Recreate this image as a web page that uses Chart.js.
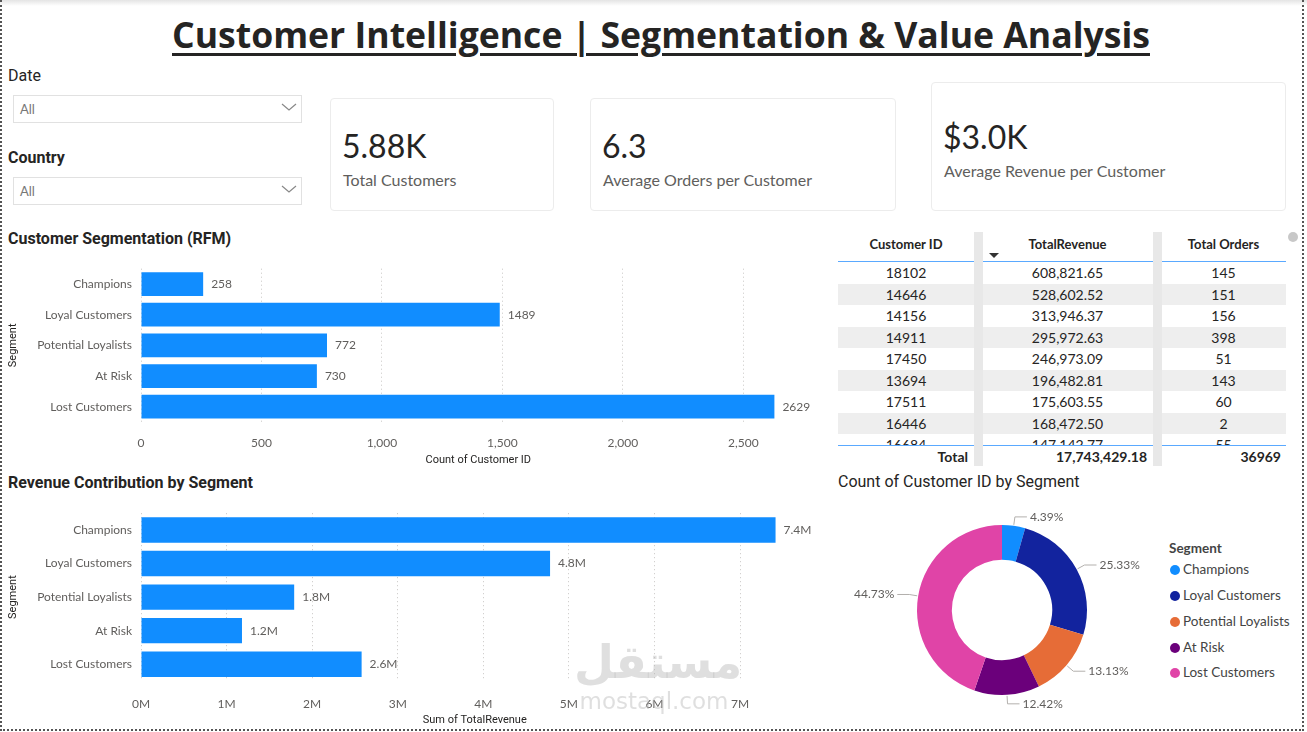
<!DOCTYPE html>
<html>
<head>
<meta charset="utf-8">
<title>Customer Intelligence | Segmentation &amp; Value Analysis</title>
<script src="https://cdn.jsdelivr.net/npm/chart.js@4.4.1/dist/chart.umd.min.js"></script>
<style>
  body { margin:0; width:1307px; height:732px; background:#fff; overflow:hidden; position:relative;
         font-family: Lato, "Noto Sans", sans-serif; color:#252423; }
  .abs { position:absolute; }
  #frame { left:0; top:0; width:1300px; height:729px; border-left:2px dotted #555; border-right:2px dotted #555; border-bottom:2px dotted #555; }
  #topshade { left:0; top:0; width:1307px; height:6px; background:linear-gradient(#e4e4e4, rgba(255,255,255,0)); }
  #title { left:172px; top:10px; white-space:nowrap; font-family:"Open Sans", sans-serif; font-weight:700; font-size:36px;
           text-decoration:underline; text-decoration-thickness:3px; text-underline-offset:5px; transform-origin:left top; color:#252423; }
  .slabel { font-family:Roboto, sans-serif; font-size:16px; color:#252423; }
  .dropdown { left:13px; width:287px; height:26px; border:1px solid #e1e1e1; }
  .dropdown span { position:absolute; left:6px; top:5px; font-size:13px; color:#777; }
  .dropdown svg { position:absolute; right:4px; top:6px; }
  .card { border:1px solid #ececec; border-radius:4px; }
  .kpi { font-size:32px; color:#252423; }
  .kpilab { font-size:16px; color:#605E5C; white-space:nowrap; }
  .vtitle { font-family:Roboto, sans-serif; font-weight:700; font-size:16px; color:#252423; white-space:nowrap; }
  #tbl { left:838px; top:232px; width:448px; }
  .th { position:absolute; top:4px; font-weight:700; font-size:13px; text-align:center; }
  .row { position:absolute; left:0; width:448px; height:21.5px; line-height:21.5px; font-size:14px; color:#252423; }
  .row div { position:absolute; text-align:center; }
  .sep { top:0; width:9px; height:234px; background:#e8e8e8; }
  .legitem { position:absolute; left:1170px; font-size:13.5px; color:#444; white-space:nowrap; }
  .legitem i { display:inline-block; width:10px; height:10px; border-radius:50%; margin-right:3px; vertical-align:-1px; }
  #wm { left:574px; top:636px; width:160px; color:rgba(175,175,175,0.4); pointer-events:none; text-align:center; z-index:10; }
</style>
</head>
<body>
<div id="topshade" class="abs"></div>
<div id="frame" class="abs"></div>
<div id="title" class="abs">Customer Intelligence | Segmentation &amp; Value Analysis</div>

<div class="abs slabel" style="left:8px;top:66px;">Date</div>
<div class="abs dropdown" style="top:95px;"><span>All</span>
  <svg width="16" height="10"><polyline points="1,2 8,8 15,2" fill="none" stroke="#888" stroke-width="1.2"/></svg></div>
<div class="abs slabel" style="left:8px;top:148px;font-weight:700;">Country</div>
<div class="abs dropdown" style="top:177px;"><span>All</span>
  <svg width="16" height="10"><polyline points="1,2 8,8 15,2" fill="none" stroke="#888" stroke-width="1.2"/></svg></div>

<div class="abs card" style="left:330px;top:98px;width:222px;height:111px;"></div>
<div class="abs card" style="left:590px;top:98px;width:304px;height:111px;"></div>
<div class="abs card" style="left:931px;top:82px;width:353px;height:127px;"></div>
<div class="abs kpi" id="kpi1" style="left:342px;top:126px;"></div>
<div class="abs kpilab" style="left:343px;top:170px;">Total Customers</div>
<div class="abs kpi" id="kpi2" style="left:602px;top:126px;"></div>
<div class="abs kpilab" style="left:603px;top:170px;">Average Orders per Customer</div>
<div class="abs kpi" id="kpi3" style="left:943px;top:117px;"></div>
<div class="abs kpilab" style="left:944px;top:161px;">Average Revenue per Customer</div>

<div class="abs vtitle" style="left:8px;top:229px;">Customer Segmentation (RFM)</div>
<canvas id="segChart" class="abs" width="830" height="219" style="left:0;top:250px;"></canvas>

<div class="abs vtitle" style="left:8px;top:473px;">Revenue Contribution by Segment</div>
<canvas id="revChart" class="abs" width="830" height="234" style="left:0;top:495px;"></canvas>

<div id="tbl" class="abs">
  <div class="th" style="left:0;width:136px;">Customer ID</div>
  <div class="th" style="left:144px;width:171px;">TotalRevenue</div>
  <div class="th" style="left:323px;width:125px;">Total Orders</div>
  <div class="abs" style="left:151px;top:21px;width:0;height:0;border-left:5px solid transparent;border-right:5px solid transparent;border-top:5px solid #333;"></div>
  <div class="abs" style="left:0;top:29px;width:448px;height:1px;background:#5aa9ff;"></div>
  <div id="tbody" class="abs" style="left:0;top:30px;width:448px;height:183px;overflow:hidden;"></div>
  <div class="abs" style="left:0;top:213px;width:448px;height:1px;background:#5aa9ff;"></div>
  <div id="ttotal" class="abs row" style="top:214px;font-weight:700;"></div>
  <div class="abs sep" style="left:136px;"></div>
  <div class="abs sep" style="left:315px;"></div>
</div>
<div class="abs" style="left:1288px;top:232px;width:10px;height:10px;border-radius:50%;background:#c8c8c8;"></div>

<div class="abs" style="left:838px;top:472px;font-family:Roboto,sans-serif;font-size:16px;color:#252423;white-space:nowrap;">Count of Customer ID by Segment</div>
<canvas id="donut" class="abs" width="330" height="235" style="left:838px;top:495px;"></canvas>
<div class="abs" style="left:1169px;top:540px;font-weight:700;font-size:13.5px;color:#444;">Segment</div>
<div id="legend"></div>

<div id="wm" class="abs"><div style="font-family:'DejaVu Sans';font-weight:700;font-size:46px;line-height:52px;">مستقل</div>
  <div style="font-family:'DejaVu Sans';font-size:23px;line-height:26px;">mostaql.com</div></div>

<script>
// ---- data ----
const segments = ['Champions', 'Loyal Customers', 'Potential Loyalists', 'At Risk', 'Lost Customers'];
const customerCounts = [258, 1489, 772, 730, 2629];
const segmentRevenue = [7415000, 4780000, 1790000, 1180000, 2578000];
const segmentColors = ['#118DFF', '#12239E', '#E66C37', '#6B007B', '#E044A7'];
const countTicks = [0, 500, 1000, 1500, 2000, 2500];
const revenueTicks = [0, 1e6, 2e6, 3e6, 4e6, 5e6, 6e6, 7e6];

const topIds = ['18102', '14646', '14156', '14911', '17450', '13694', '17511', '16446', '16684'];
const topRevenue = [608821.65, 528602.52, 313946.37, 295972.63, 246973.09, 196482.81, 175603.55, 168472.50, 147142.77];
const topOrders = [145, 151, 156, 398, 51, 143, 60, 2, 55];
const totalRevenue = 17743429.18;
const totalOrders = 36969;

const kpiValues = ['5.88K', '6.3', '$3.0K'];

const grey = '#605E5C';
const bodyFont = 'Lato, "Noto Sans", sans-serif';

// fit title width like the report
const title = document.getElementById('title');
title.style.transform = 'scaleX(' + (978 / title.scrollWidth) + ')';

document.getElementById('kpi1').textContent = kpiValues[0];
document.getElementById('kpi2').textContent = kpiValues[1];
document.getElementById('kpi3').textContent = kpiValues[2];

// table
const money = v => v.toLocaleString('en-US', { minimumFractionDigits: 2, maximumFractionDigits: 2 });
const tbody = document.getElementById('tbody');
topIds.forEach((id, i) => {
  const r = document.createElement('div');
  r.className = 'row';
  r.style.top = (i * 21.5) + 'px';
  if (i % 2 === 1) r.style.background = '#eeeeee';
  r.innerHTML = '<div style="left:0;width:136px">' + id + '</div>' +
    '<div style="left:144px;width:171px">' + money(topRevenue[i]) + '</div>' +
    '<div style="left:323px;width:125px">' + topOrders[i] + '</div>';
  tbody.appendChild(r);
});
document.getElementById('ttotal').innerHTML =
  '<div style="left:0;width:130px;text-align:right">Total</div>' +
  '<div style="left:144px;width:165px;text-align:right">' + money(totalRevenue) + '</div>' +
  '<div style="left:323px;width:120px;text-align:right">' + totalOrders + '</div>';

// legend
const legend = document.getElementById('legend');
const legY = [561, 587, 613, 639, 664];
segments.forEach((s, i) => {
  const d = document.createElement('div');
  d.className = 'legitem';
  d.style.top = legY[i] + 'px';
  d.innerHTML = '<i style="background:' + segmentColors[i] + '"></i>' + s;
  legend.appendChild(d);
});

// value labels at the end of each bar
function makeBarLabels(fmt) {
  return {
    id: 'barLabels',
    afterDatasetsDraw(chart) {
      const ctx = chart.ctx;
      const ds = chart.data.datasets[0];
      ctx.save();
      ctx.font = '12px ' + bodyFont;
      ctx.fillStyle = grey;
      ctx.textBaseline = 'middle';
      chart.getDatasetMeta(0).data.forEach((bar, i) => {
        ctx.fillText(fmt(ds.data[i]), bar.x + 8, bar.y);
      });
      ctx.restore();
    }
  };
}

function makeBarChart(id, values, cfg) {
  return new Chart(document.getElementById(id), {
    type: 'bar',
    data: {
      labels: segments,
      datasets: [{ data: values, backgroundColor: '#118DFF', barPercentage: cfg.barPct, categoryPercentage: 1 }]
    },
    options: {
      indexAxis: 'y',
      responsive: false,
      animation: false,
      layout: { padding: { top: cfg.padTop, right: cfg.padRight, left: 0, bottom: 0 } },
      plugins: { legend: { display: false }, tooltip: { enabled: false } },
      scales: {
        x: {
          min: 0, max: cfg.max,
          afterBuildTicks: s => { s.ticks = cfg.ticks.map(v => ({ value: v })); },
          afterFit: s => { s.height = cfg.xHeight; },
          grid: { color: '#c8c6c4', drawTicks: false },
          border: { display: false, dash: [1, 3] },
          ticks: { callback: cfg.tickFmt, color: grey, padding: cfg.tickPad, font: { size: 12, family: bodyFont } },
          title: { display: true, text: cfg.xTitle, color: '#252423', padding: { top: 0, bottom: 2 },
                   font: { size: 11, family: 'Roboto, sans-serif' } }
        },
        y: {
          afterFit: s => { s.width = 141; },
          grid: { display: false, drawTicks: false },
          border: { display: false },
          ticks: { color: grey, padding: 9, font: { size: 12, family: bodyFont } },
          title: { display: true, text: 'Segment', color: '#252423', padding: { top: 7, bottom: 0 },
                   font: { size: 11, family: 'Roboto, sans-serif' } }
        }
      }
    },
    plugins: [makeBarLabels(cfg.labelFmt)]
  });
}

makeBarChart('segChart', customerCounts, {
  max: 2800, ticks: countTicks, padTop: 18.7, padRight: 14.4, xHeight: 47, tickPad: 14, barPct: 0.775,
  tickFmt: v => v.toLocaleString('en-US'), labelFmt: v => String(v), xTitle: 'Count of Customer ID'
});

makeBarChart('revChart', segmentRevenue, {
  max: 7.8e6, ticks: revenueTicks, padTop: 18.2, padRight: 21.5, xHeight: 48, tickPad: 16, barPct: 0.756,
  tickFmt: v => (v / 1e6) + 'M', labelFmt: v => (v / 1e6).toFixed(1) + 'M', xTitle: 'Sum of TotalRevenue'
});

// percentage labels with leader lines
const donutLabels = {
  id: 'donutLabels',
  afterDatasetsDraw(chart) {
    const ctx = chart.ctx;
    const data = chart.data.datasets[0].data;
    const total = data.reduce((a, b) => a + b, 0);
    ctx.save();
    ctx.font = '12px ' + bodyFont;
    ctx.fillStyle = grey;
    ctx.strokeStyle = '#b3b0ad';
    ctx.lineWidth = 1;
    ctx.textBaseline = 'middle';
    chart.getDatasetMeta(0).data.forEach((arc, i) => {
      const p = arc.getProps(['x', 'y', 'startAngle', 'endAngle', 'outerRadius'], true);
      const a = (p.startAngle + p.endAngle) / 2;
      const x0 = p.x + Math.cos(a) * (p.outerRadius + 1);
      const y0 = p.y + Math.sin(a) * (p.outerRadius + 1);
      const x1 = p.x + Math.cos(a) * (p.outerRadius + 9);
      const y1 = p.y + Math.sin(a) * (p.outerRadius + 9);
      const right = x1 >= p.x;
      const x2 = x1 + (right ? 12 : -12);
      ctx.beginPath();
      ctx.moveTo(x0, y0); ctx.lineTo(x1, y1); ctx.lineTo(x2, y1);
      ctx.stroke();
      ctx.textAlign = right ? 'left' : 'right';
      ctx.fillText((data[i] / total * 100).toFixed(2) + '%', x2 + (right ? 3 : -3), y1);
    });
    ctx.restore();
  }
};

new Chart(document.getElementById('donut'), {
  type: 'doughnut',
  data: { labels: segments, datasets: [{ data: customerCounts, backgroundColor: segmentColors, borderWidth: 0 }] },
  options: {
    responsive: false,
    animation: false,
    cutout: '59%',
    layout: { padding: { left: 79, right: 81, top: 30, bottom: 35 } },
    plugins: { legend: { display: false }, tooltip: { enabled: false } }
  },
  plugins: [donutLabels]
});
</script>
</body>
</html>
